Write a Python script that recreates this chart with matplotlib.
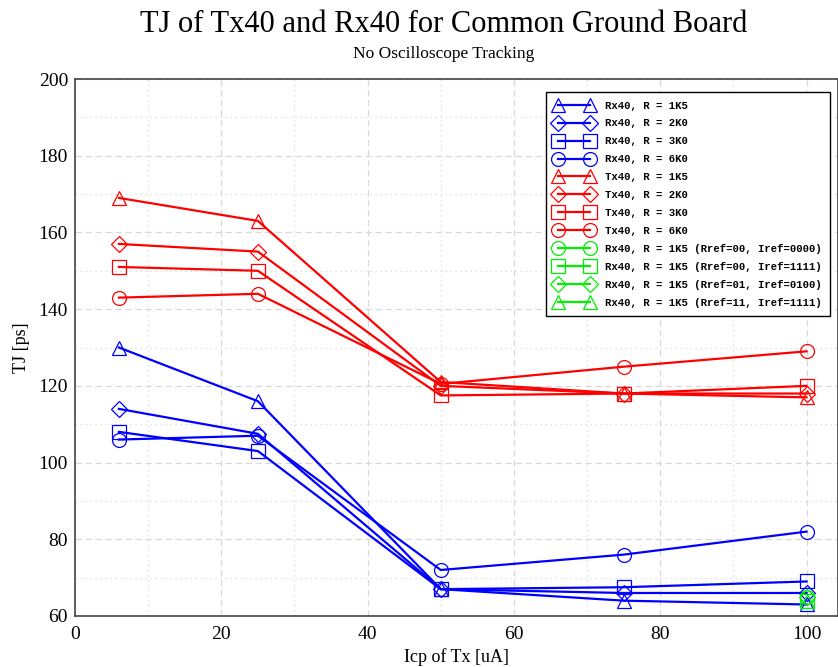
import numpy as np
import matplotlib
matplotlib.use("Agg")
import matplotlib.pyplot as plt
from matplotlib.ticker import MultipleLocator

# data
icp = [6, 25, 50, 75, 100]

rx_1k5 = [130, 116, 67, 64, 63]
rx_2k0 = [114, 107.5, 67, 66, 66]
rx_3k0 = [108, 103, 67, 67.5, 69]
rx_6k0 = [106, 107, 72, 76, 82]

tx_1k5 = [169, 163, 121, 118, 117]
tx_2k0 = [157, 155, 120, 118, 118]
tx_3k0 = [151, 150, 117.5, 118, 120]
tx_6k0 = [143, 144, 120.5, 125, 129]

green_x = [100]
green_00_0000 = [65]
green_00_1111 = [64]
green_01_0100 = [65]
green_11_1111 = [64]

labels = [
    "Rx40, R = 1K5", "Rx40, R = 2K0", "Rx40, R = 3K0", "Rx40, R = 6K0",
    "Tx40, R = 1K5", "Tx40, R = 2K0", "Tx40, R = 3K0", "Tx40, R = 6K0",
    "Rx40, R = 1K5 (Rref=00, Iref=0000)",
    "Rx40, R = 1K5 (Rref=00, Iref=1111)",
    "Rx40, R = 1K5 (Rref=01, Iref=0100)",
    "Rx40, R = 1K5 (Rref=11, Iref=1111)",
]


def main():
    fig = plt.figure(figsize=(8.38, 6.67), dpi=100)
    ax = fig.add_axes([75 / 838, 51 / 667, 1 - 75 / 838, (616 - 79) / 667])

    series = [
        (icp, rx_1k5, "blue", "^"),
        (icp, rx_2k0, "blue", "D"),
        (icp, rx_3k0, "blue", "s"),
        (icp, rx_6k0, "blue", "o"),
        (icp, tx_1k5, "red", "^"),
        (icp, tx_2k0, "red", "D"),
        (icp, tx_3k0, "red", "s"),
        (icp, tx_6k0, "red", "o"),
        (green_x, green_00_0000, "#00ee00", "o"),
        (green_x, green_00_1111, "#00ee00", "s"),
        (green_x, green_01_0100, "#00ee00", "D"),
        (green_x, green_11_1111, "#00ee00", "^"),
    ]
    for (x, y, c, m), lab in zip(series, labels):
        ms = 8 if m == "D" else 10
        ax.plot(x, y, color=c, marker=m, markersize=ms, fillstyle="none",
                markeredgewidth=0.9, linewidth=1.6, label=lab)

    ax.set_xlim(0, 104.3)
    ax.set_ylim(60, 200)
    ax.xaxis.set_major_locator(MultipleLocator(20))
    ax.xaxis.set_minor_locator(MultipleLocator(10))
    ax.yaxis.set_major_locator(MultipleLocator(20))
    ax.yaxis.set_minor_locator(MultipleLocator(10))
    ax.grid(which="major", color="#d8d8d8", linestyle=(0, (5, 3)), linewidth=0.9)
    ax.grid(which="minor", color="#d8d8d8", linestyle=(0, (1, 3)), linewidth=0.9)
    ax.set_axisbelow(True)
    ax.tick_params(which="both", length=0, labelsize=14)
    ax.tick_params(axis="x", pad=7)
    ax.tick_params(axis="y", pad=5)
    for lbl in ax.get_xticklabels() + ax.get_yticklabels():
        lbl.set_family("Liberation Serif")
    for s in ax.spines.values():
        s.set_color("#444444")
        s.set_linewidth(1.2)

    ax.set_xlabel("Icp of Tx [uA]", family="Liberation Serif", fontsize=13, labelpad=4)
    ax.set_ylabel("TJ [ps]", family="Liberation Serif", fontsize=13, labelpad=6)

    fig.text(444 / 838, 0.963, "TJ of Tx40 and Rx40 for Common Ground Board",
             family="Liberation Serif", fontsize=22, ha="center", va="center")
    fig.text(444 / 838, 0.919, "No Oscilloscope Tracking",
             family="Liberation Serif", fontsize=12.5, ha="center", va="center")

    leg = ax.legend(loc="upper right", bbox_to_anchor=(0.9895, 0.9758), numpoints=2,
                    prop={"family": "Liberation Mono", "weight": "bold", "size": 7.7},
                    fancybox=False, framealpha=1, edgecolor="black",
                    handlelength=3.6, handletextpad=1.05, labelspacing=0.74,
                    borderpad=0.8, borderaxespad=0, markerscale=1.0)
    leg.get_frame().set_linewidth(1.0)

    fig.savefig("out.png", dpi=100)


if __name__ == "__main__":
    main()
